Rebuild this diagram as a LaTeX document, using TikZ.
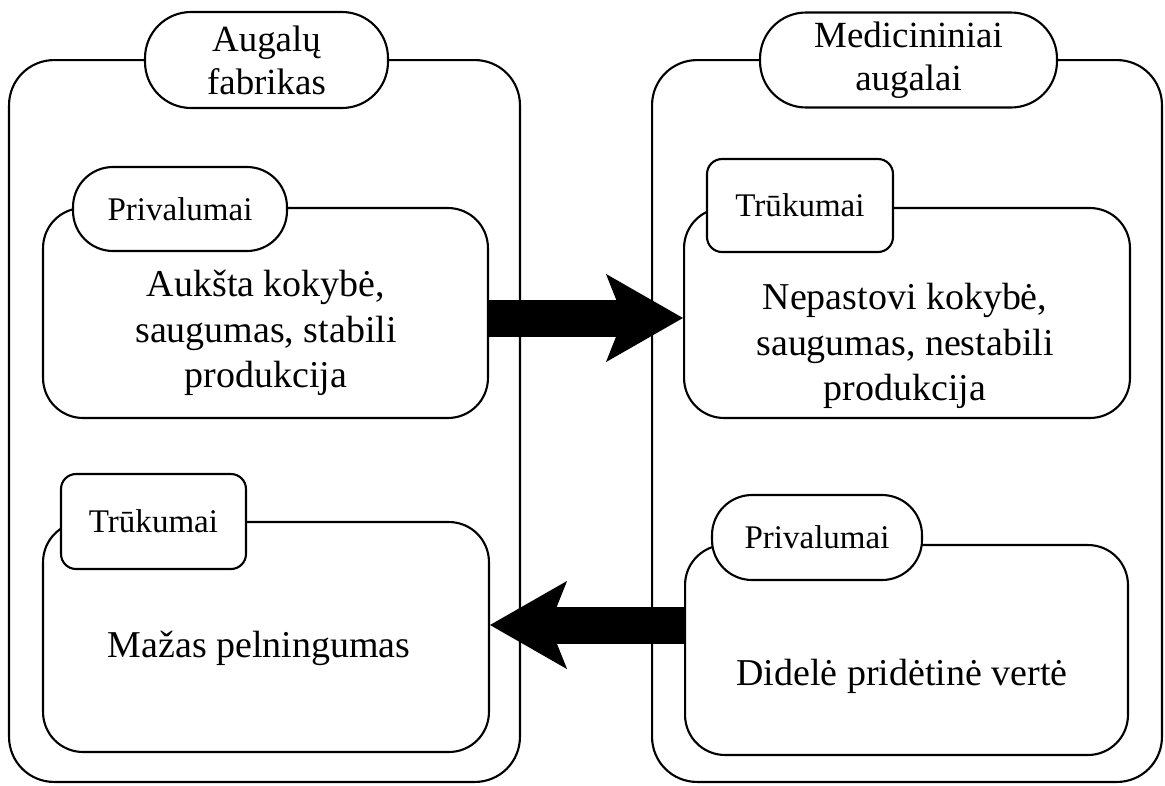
\documentclass[tikz,border=0pt]{standalone}
\usepackage{fontspec}
\setmainfont{Liberation Serif}
\usetikzlibrary{positioning, arrows.meta}

\begin{document}
\begin{tikzpicture}[x=0.02cm, y=-0.02cm,
    outerbox/.style={draw, line width=1.2pt, rounded corners=0.9cm, inner sep=0pt},
    innerbox/.style={draw, line width=1.2pt, rounded corners=0.8cm, inner sep=0pt, fill=white},
    pilltab/.style={draw, line width=1.2pt, fill=white, inner sep=0pt, rounded corners=0.8cm, font=\fontsize{18.8}{22}\selectfont},
    cardtab/.style={draw, line width=1.2pt, fill=white, inner sep=0pt, rounded corners=0.3cm, font=\fontsize{18.8}{22}\selectfont},
    headtab/.style={pilltab, rounded corners=0.92cm, align=center, font=\fontsize{21}{24.5}\selectfont},
    bodytext/.style={align=center, inner sep=0pt, font=\fontsize{21.6}{26}\selectfont},
    bigarrow/.style={line width=0.74cm, -{Stealth[length=1.54cm, width=1.76cm, inset=0.35cm, line width=1pt]}}]
  \path[use as bounding box, fill=white] (0,0) rectangle (1165,785);
  % Two columns with their headings
  \node[outerbox, minimum width=10.22cm, minimum height=14.44cm] (leftbox)  at (264.5, 421) {};
  \node[outerbox, minimum width=10.2cm,  minimum height=14.44cm] (rightbox) at (907, 421) {};
  \node[headtab, minimum width=4.86cm, minimum height=1.92cm] (lefthead)  at (266.5, 60) {Augalų\\fabrikas};
  \node[headtab, minimum width=5.94cm, minimum height=1.9cm]  (righthead) at (908.5, 60) {Medicininiai\\augalai};
  % Inner panels
  \node[innerbox, minimum width=8.9cm,  minimum height=4.2cm] (leftpro)  at (265.5, 313) {};
  \node[innerbox, minimum width=8.92cm, minimum height=4.6cm] (leftcon)  at (266, 637) {};
  \node[innerbox, minimum width=8.92cm, minimum height=4.2cm] (rightcon) at (907, 313) {};
  \node[innerbox, minimum width=8.86cm, minimum height=4.2cm] (rightpro) at (906.5, 650) {};
  \node[pilltab, minimum width=4.28cm, minimum height=1.68cm] (leftprotab)  at (180, 209) {Privalumai};
  \node[cardtab, minimum width=3.7cm,  minimum height=1.9cm]  (leftcontab)  at (153.5, 521.5) {Trūkumai};
  \node[cardtab, minimum width=3.72cm, minimum height=1.86cm] (rightcontab) at (800, 205.5) {Trūkumai};
  \node[pilltab, minimum width=4.2cm,  minimum height=1.7cm]  (rightprotab) at (817, 537.5) {Privalumai};
  \node[bodytext] (leftprotext)  at (266, 333) {Aukšta kokybė,\\saugumas, stabili\\produkcija};
  \node[bodytext] (leftcontext)  at (259, 648) {Mažas pelningumas};
  \node[bodytext] (rightcontext) at (905, 346) {Nepastovi kokybė,\\saugumas, nestabili\\produkcija};
  \node[bodytext] (rightprotext) at (902, 676) {Didelė pridėtinė vertė};
  % Block arrows between the columns
  \coordinate (toparrow) at (585, 318);
  \coordinate (lowarrow) at (585, 625);
  \draw[bigarrow] (leftpro.east |- toparrow) -- (rightcon.west |- toparrow);
  \draw[bigarrow] (rightpro.west |- lowarrow) -- (leftcon.east |- lowarrow);
\end{tikzpicture}
\end{document}
